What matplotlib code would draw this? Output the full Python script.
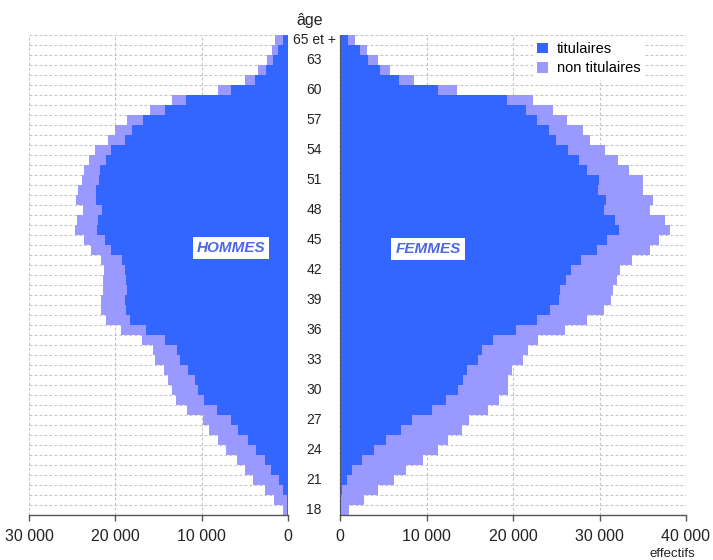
import matplotlib
matplotlib.use('AGG')
from matplotlib import pyplot
import matplotlib.transforms as mtransforms
import numpy

pyplot.rcParams['font.family'] = ['Liberation Sans', 'DejaVu Sans']

# ages 18 .. 65 et +
ages = list(range(18, 66))
age_ticks = [18, 21, 24, 27, 30, 33, 36, 39, 42, 45, 48, 51, 54, 57, 60, 63, 65]
age_tick_labels = ['18', '21', '24', '27', '30', '33', '36', '39', '42', '45',
                   '48', '51', '54', '57', '60', '63', '65 et +']

# hommes
hommes_titulaires = [150, 100, 580, 1075, 2005, 2700, 3775, 4700, 5790, 6635,
                     8290, 9725, 10490, 10805, 11580, 12540, 12925, 14280, 16480, 18330,
                     18830, 18910, 18715, 18830, 18910, 19290, 20530, 21225, 22190, 22000,
                     21610, 22305, 22305, 21885, 21805, 21110, 20570, 18910, 18135, 16860,
                     14280, 11880, 6635, 3855, 2615, 1740, 1160, 580]
hommes_non_titulaires = [500, 1500, 2120, 2980, 3010, 3275, 3440, 3475, 3360, 3275,
                         3475, 3315, 3010, 3090, 2815, 2895, 2705, 2695, 2930, 2780,
                         2860, 2780, 2775, 2590, 2465, 2400, 2350, 2400, 2510, 2390,
                         2165, 2200, 2015, 2040, 1855, 1935, 1815, 2005, 1935, 1855,
                         1735, 1620, 1470, 1160, 860, 760, 760, 960]

# femmes
femmes_titulaires = [50, 80, 160, 740, 1390, 2480, 3900, 5290, 6995, 8270,
                     10655, 12205, 13595, 14175, 14705, 15910, 16445, 17715, 20345, 22745,
                     24285, 25325, 25440, 26135, 26680, 27875, 29690, 30850, 32190, 31810,
                     30455, 30690, 29840, 29960, 28600, 27640, 26335, 24945, 24170, 22745,
                     21470, 19270, 11350, 6830, 4600, 3240, 2280, 925]
femmes_non_titulaires = [990, 2665, 4170, 5480, 6220, 7130, 7450, 7215, 7065, 6670,
                         6415, 6205, 5860, 5280, 5145, 5210, 5255, 5215, 5675, 5855,
                         6170, 5985, 6060, 5870, 5710, 5870, 6090, 5975, 5990, 5710,
                         5410, 5440, 5130, 5010, 4750, 4435, 4235, 3970, 3855, 3470,
                         3195, 3010, 2200, 1705, 1155, 1160, 775, 775]

left_ticks = [30000, 20000, 10000, 0]
left_tick_labels = ['30 000', '20 000', '10 000', '0']
right_ticks = [0, 10000, 20000, 30000, 40000]
right_tick_labels = ['0', '10 000', '20 000', '30 000', '40 000']

BLUE = '#3366ff'
LIGHT = '#9999ff'
GRID = '#c4c4c4'

W, H = 713, 560
fig = pyplot.figure(figsize=(W / 100, H / 100), dpi=100)
ax_h = fig.add_axes([29 / W, 1 - 515 / H, 259.3 / W, 480 / H])
ax_f = fig.add_axes([340.3 / W, 1 - 515 / H, 345.7 / W, 480 / H])

y = numpy.arange(len(ages))

def style_axis(ax, xlim, ticks, labels):
    ax.set_xlim(*xlim)
    ax.set_ylim(-0.5, len(ages) - 0.5)
    ax.set_axisbelow(True)
    ax.set_yticks([])
    ax.set_yticks(numpy.arange(-0.5, len(ages), 1), minor=True)
    ax.tick_params(axis='y', which='both', left=False, labelleft=False)
    ax.grid(which='minor', axis='y', color=GRID, linestyle=(0, (2.5, 2)), linewidth=0.8)
    ax.set_xticks(ticks)
    ax.set_xticklabels(labels)
    ax.grid(which='major', axis='x', color=GRID, linestyle=(0, (2.5, 2)), linewidth=0.8)
    ax.tick_params(axis='x', direction='out', length=4, width=1, color='#555555',
                   pad=6, labelsize=11.5, labelcolor='#222222')
    for s in ['top', 'right', 'left']:
        ax.spines[s].set_visible(False)
    ax.spines['bottom'].set_color('#555555')
    ax.spines['bottom'].set_linewidth(1)

b1 = ax_h.barh(y, hommes_titulaires, height=1.0, color=BLUE, linewidth=0)
b2 = ax_h.barh(y, hommes_non_titulaires, left=hommes_titulaires, height=1.0, color=LIGHT, linewidth=0)
style_axis(ax_h, (30000, 0), left_ticks, left_tick_labels)

f1 = ax_f.barh(y, femmes_titulaires, height=1.0, color=BLUE, linewidth=0)
f2 = ax_f.barh(y, femmes_non_titulaires, left=femmes_titulaires, height=1.0, color=LIGHT, linewidth=0)
style_axis(ax_f, (0, 40000), right_ticks, right_tick_labels)
ax_f.spines['left'].set_visible(True)
ax_f.spines['left'].set_color('#555555')
ax_f.spines['left'].set_linestyle((0, (2, 1.5)))
ax_f.spines['left'].set_linewidth(0.9)

# age labels between the two halves
trans = mtransforms.blended_transform_factory(fig.transFigure, ax_h.transData)
for a, lab in zip(age_ticks, age_tick_labels):
    ax_h.text(314 / W, ages.index(a), lab, transform=trans, ha='center', va='center',
              fontsize=10, color='#222222', clip_on=False)

fig.text(310 / W, 1 - 20 / H, 'âge', ha='center', va='center', fontsize=11.5, color='#222222')

fig.legend([f1, f2], ['titulaires', 'non titulaires'], loc='upper left',
           bbox_to_anchor=(533 / W, 1 - 38 / H), bbox_transform=fig.transFigure,
           frameon=True, facecolor='white', edgecolor='none', fancybox=False, framealpha=1,
           fontsize=10.5, handlelength=0.72, handleheight=0.72, handletextpad=0.6,
           labelspacing=0.35, borderpad=0.3, borderaxespad=0)

box = dict(facecolor='white', edgecolor='none', pad=3)
fig.text(231 / W, 1 - 248 / H, 'HOMMES', ha='center', va='center', fontsize=11,
         fontweight='bold', style='italic', color='#4d66e6', bbox=box)
fig.text(428 / W, 1 - 249 / H, 'FEMMES', ha='center', va='center', fontsize=11,
         fontweight='bold', style='italic', color='#4d66e6', bbox=box)

fig.text(672 / W, 1 - 548 / H, 'effectifs', ha='center', va='top', fontsize=9.5, color='#222222')

pyplot.savefig('out.png', dpi=100)
